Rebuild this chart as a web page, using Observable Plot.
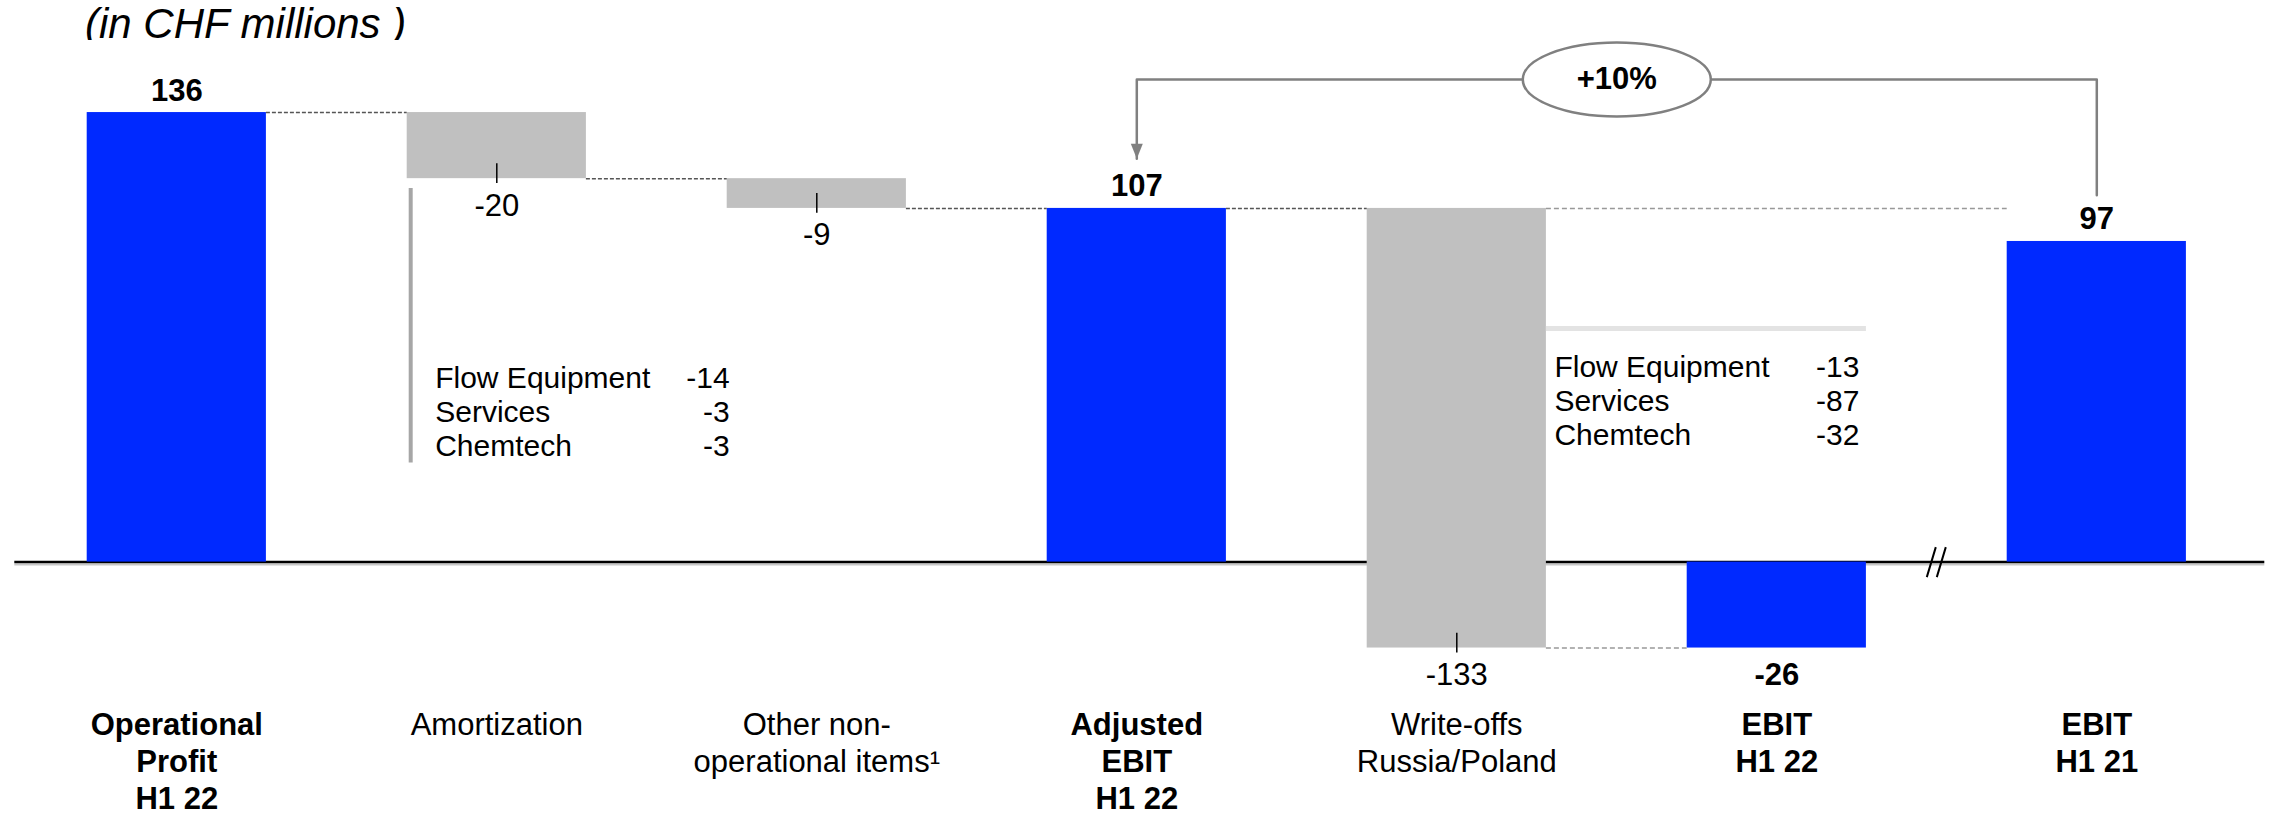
<!DOCTYPE html>
<html>
<head>
<meta charset="utf-8">
<script src="https://cdn.jsdelivr.net/npm/d3@7"></script>
<script src="https://cdn.jsdelivr.net/npm/@observablehq/plot@0.6"></script>
<style>
  html, body { margin: 0; padding: 0; background: #fff; }
  #wrap { position: relative; width: 2275px; height: 817px; overflow: hidden; }
  #title { position: absolute; left: 85px; top: 3px; font: italic 42px "Liberation Sans", Arial, sans-serif; line-height: 1; color: #000; white-space: nowrap; }
  #chart { position: absolute; left: 0; top: 40px; }
</style>
</head>
<body>
<div id="wrap">
  <div id="title">(in CHF millions )</div>
  <div id="chart"></div>
</div>
<script>
// ---- data ----
const categories = ["Operational Profit H1 22", "Amortization", "Other non-operational items", "Adjusted EBIT H1 22", "Write-offs Russia/Poland", "EBIT H1 22", "EBIT H1 21"];
const categoryLabels = ["Operational\nProfit\nH1 22", "Amortization", "Other non-\noperational items\u00b9", "Adjusted\nEBIT\nH1 22", "Write-offs\nRussia/Poland", "EBIT\nH1 22", "EBIT\nH1 21"];
const values = [136, -20, -9, 107, -133, -26, 97];
const barTypes = ["total", "delta", "delta", "total", "delta", "total", "total"];
const segmentNames = ["Flow Equipment", "Services", "Chemtech"];
const amortizationValues = [-14, -3, -3];
const writeoffValues = [-13, -87, -32];
const compareFrom = "EBIT H1 21";
const compareTo = "Adjusted EBIT H1 22";

// ---- layout / style constants ----
const hw = 0.28;              // half bar width in category units
const blue = "#0029ff";
const gray = "#c0c0c0";
const font = "'Liberation Sans', Arial, sans-serif";

// ---- waterfall geometry ----
let running = 0;
const bars = categories.map((c, i) => {
  const v = values[i];
  let y1, y2;
  if (barTypes[i] === "total") { y1 = 0; y2 = v; running = v; }
  else { y1 = running; y2 = running + v; running = y2; }
  return {i, c, v, type: barTypes[i], y1, y2, lo: Math.min(y1, y2), hi: Math.max(y1, y2), label: categoryLabels[i]};
});
const idx = c => categories.indexOf(c);

const connectors = [];
for (let k = 0; k < 5; k++) connectors.push({x1: k + hw, x2: k + 1 - hw, y: bars[k].y2, dark: k < 4});
connectors.push({x1: 4 + hw, x2: 6 - hw, y: bars[4].y1, dark: false});

const above = bars.filter(d => d.type === "total" && d.v > 0);
const belowRegular = bars.filter(d => d.type === "delta");
const belowBold = bars.filter(d => d.type === "total" && d.v < 0);
const deltas = bars.filter(d => d.type === "delta");

const iFrom = idx(compareFrom), iTo = idx(compareTo);
const yTop = 146;
const bracket = [
  {x: iTo, y: values[iTo] + 15},
  {x: iTo, y: yTop},
  {x: iFrom, y: yTop},
  {x: iFrom, y: values[iFrom] + 14}
];
const pct = "+" + Math.round((values[iTo] / values[iFrom] - 1) * 100) + "%";

const ellipseSymbol = {
  draw(ctx) {
    const rx = 94, ry = 37, k = 0.5523;
    ctx.moveTo(rx, 0);
    ctx.bezierCurveTo(rx, ry * k, rx * k, ry, 0, ry);
    ctx.bezierCurveTo(-rx * k, ry, -rx, ry * k, -rx, 0);
    ctx.bezierCurveTo(-rx, -ry * k, -rx * k, -ry, 0, -ry);
    ctx.bezierCurveTo(rx * k, -ry, rx, -ry * k, rx, 0);
    ctx.closePath();
  }
};
const arrowSymbol = {
  draw(ctx) { ctx.moveTo(-6, -15); ctx.lineTo(6, -15); ctx.lineTo(0, 0); ctx.closePath(); }
};
const breakSymbol = {
  draw(ctx) { ctx.moveTo(-10, 15); ctx.lineTo(-1, -15); ctx.moveTo(0, 15); ctx.lineTo(9, -15); }
};

const iAm = idx("Amortization"), iWo = idx("Write-offs Russia/Poland"), iE22 = idx("EBIT H1 22");
const amortEnd = bars[iAm].y2;
const woStart = bars[iWo].y1;
const lineLevel = woStart - 36.3;

const chart = Plot.plot({
  width: 2275,
  height: 777,
  marginLeft: 16.3, marginRight: 18.7, marginTop: 39, marginBottom: 105,
  x: {domain: [-0.5, 6.5], axis: null},
  y: {domain: [-45.5, yTop], axis: null},
  style: {fontFamily: font, fontSize: "31px", background: "#fff", overflow: "visible", color: "#000"},
  marks: [
    Plot.ruleY([0], {stroke: "#c8c8c8", strokeWidth: 2, dy: 2.5, insetLeft: -2, insetRight: -8}),
    Plot.ruleY([0], {stroke: "#000", strokeWidth: 2.5, insetLeft: -2, insetRight: -8}),
    Plot.rect(bars, {x1: d => d.i - hw, x2: d => d.i + hw, y1: "y1", y2: "y2", fill: d => d.type === "total" ? blue : gray}),
    Plot.ruleY(connectors.filter(d => d.dark), {x1: "x1", x2: "x2", y: "y", stroke: "#555", strokeWidth: 1.5, strokeDasharray: "4,2"}),
    Plot.ruleY(connectors.filter(d => !d.dark), {x1: "x1", x2: "x2", y: "y", stroke: "#999", strokeWidth: 1.5, strokeDasharray: "5,3"}),
    Plot.ruleX(deltas, {x: "i", y1: d => d.lo + 4.5, y2: d => d.lo - 1.5, stroke: "#000", strokeWidth: 1.5}),
    // value labels
    Plot.text(above, {x: "i", y: "hi", text: d => String(d.v), lineAnchor: "bottom", dy: -12, fontWeight: "bold", fontSize: 31}),
    Plot.text(belowRegular, {x: "i", y: "lo", text: d => String(d.v), lineAnchor: "top", dy: 15, fontSize: 31}),
    Plot.text(belowBold, {x: "i", y: "lo", text: d => String(d.v), lineAnchor: "top", dy: 15, fontWeight: "bold", fontSize: 31}),
    // category labels
    Plot.text(bars.filter(d => d.type === "total"), {x: "i", text: "label", frameAnchor: "bottom", lineAnchor: "top", dy: -4, lineHeight: 1.2, fontWeight: "bold", fontSize: 31}),
    Plot.text(bars.filter(d => d.type === "delta"), {x: "i", text: "label", frameAnchor: "bottom", lineAnchor: "top", dy: -4, lineHeight: 1.2, fontSize: 31}),
    // amortization breakdown
    Plot.ruleX([iAm - hw], {x: d => d, y1: amortEnd - 3, y2: amortEnd - 86, dx: 3.5, stroke: "#a6a6a6", strokeWidth: 4}),
    Plot.text([segmentNames.join("\n")], {x: iAm - hw, y: amortEnd, text: d => d, textAnchor: "start", lineAnchor: "top", dx: 28, dy: 185, lineHeight: 1.13, fontSize: 30}),
    Plot.text([amortizationValues.join("\n")], {x: iAm + 1 - hw, y: amortEnd, text: d => d, textAnchor: "end", lineAnchor: "top", dx: 2.5, dy: 185, lineHeight: 1.13, fontSize: 30}),
    // write-off breakdown
    Plot.ruleY([lineLevel], {x1: iWo + hw, x2: iE22 + hw, y: d => d, stroke: "#e3e3e3", strokeWidth: 5}),
    Plot.text([segmentNames.join("\n")], {x: iWo + hw, y: lineLevel, text: d => d, textAnchor: "start", lineAnchor: "top", dx: 8, dy: 24, lineHeight: 1.14, fontSize: 30}),
    Plot.text([writeoffValues.join("\n")], {x: iE22 + hw, y: lineLevel, text: d => d, textAnchor: "end", lineAnchor: "top", dx: -7, dy: 24, lineHeight: 1.14, fontSize: 30}),
    // comparison bracket
    Plot.line(bracket, {x: "x", y: "y", stroke: "#808080", strokeWidth: 2.5, curve: "linear"}),
    Plot.dot([bracket[0]], {x: "x", y: "y", symbol: arrowSymbol, fill: "#808080", stroke: "none"}),
    Plot.dot([{x: (iTo + iFrom) / 2, y: yTop}], {x: "x", y: "y", symbol: ellipseSymbol, fill: "#fff", stroke: "#808080", strokeWidth: 2.5}),
    Plot.text([pct], {x: (iTo + iFrom) / 2, y: yTop, text: d => d, lineAnchor: "middle", fontWeight: "bold", fontSize: 31}),
    // axis break
    Plot.dot([{x: iE22 + 0.5, y: 0}], {x: "x", y: "y", symbol: breakSymbol, fill: "none", stroke: "#000", strokeWidth: 2})
  ]
});
document.getElementById("chart").appendChild(chart);
</script>
</body>
</html>
